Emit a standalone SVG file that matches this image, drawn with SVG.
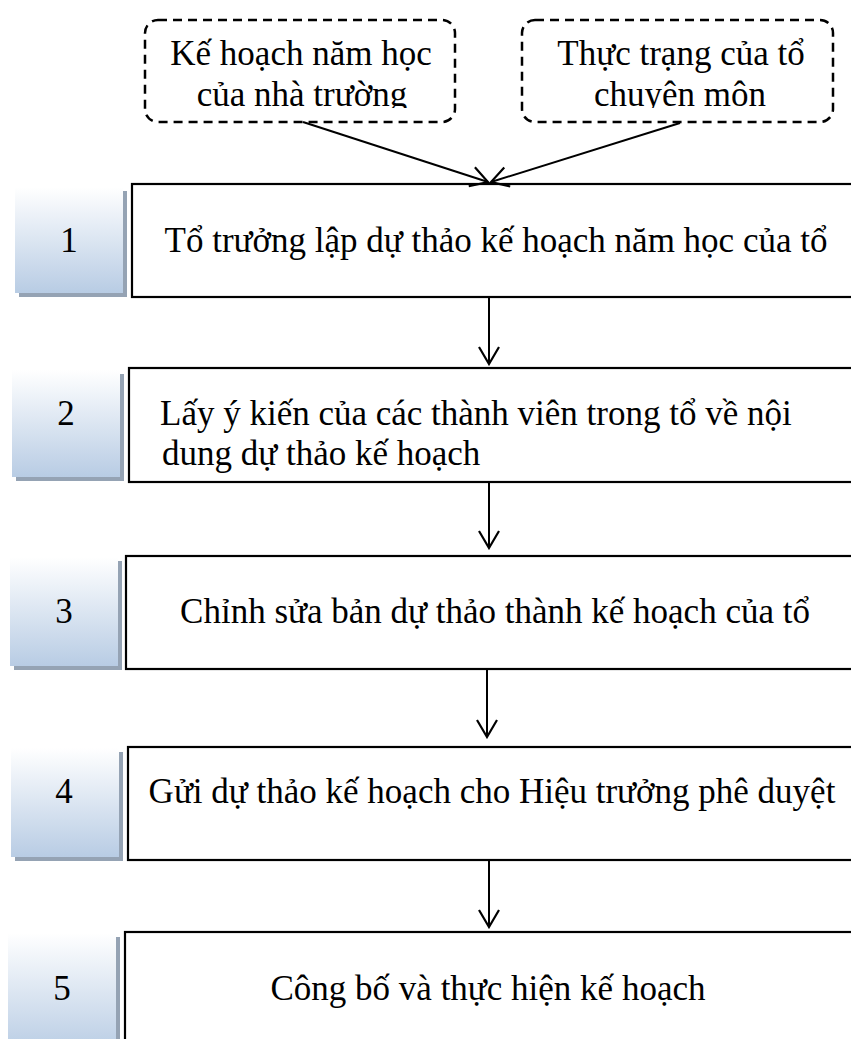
<svg xmlns="http://www.w3.org/2000/svg" width="851" height="1039" viewBox="0 0 851 1039">
<style>
  text { font-family: "Liberation Serif", "Times New Roman", serif; font-size: 35px; fill: #000; }
  .mid { text-anchor: middle; }
  .main { fill: #fff; stroke: #000; stroke-width: 2.2; }
  .dash { fill: #fff; stroke: #000; stroke-width: 2.5; stroke-dasharray: 9 6; }
  .num { fill: url(#grad); }
  .shadow { fill: #95a3b4; }
  .conn { fill: none; stroke: #000; stroke-width: 2; marker-end: url(#ah); }
</style>
<defs>
  <linearGradient id="grad" x1="0" y1="0" x2="0" y2="1">
    <stop offset="0" stop-color="#ffffff"/>
    <stop offset="1" stop-color="#b8cce4"/>
  </linearGradient>
  <marker id="ah" viewBox="-20 -12 22 24" refX="0" refY="0" markerWidth="22" markerHeight="24" markerUnits="userSpaceOnUse" orient="auto">
    <path d="M-17,-10 L0,0 L-17,10" fill="none" stroke="#000" stroke-width="2.2"/>
  </marker>
  <clipPath id="clipA"><rect x="145" y="20" width="310" height="88"/></clipPath>
  <clipPath id="clipB"><rect x="522" y="20" width="311" height="88"/></clipPath>
</defs>
<rect width="851" height="1039" fill="#fff"/>

<g id="input-school-plan">
  <rect class="dash" x="145" y="20" width="310" height="102" rx="13"/>
  <g clip-path="url(#clipA)">
    <text class="mid" x="301" y="65">Kế hoạch năm học</text>
    <text class="mid" x="302" y="106">của nhà trường</text>
  </g>
</g>

<g id="input-group-status">
  <rect class="dash" x="522" y="20" width="311" height="102" rx="13"/>
  <g clip-path="url(#clipB)">
    <text class="mid" x="681" y="65">Thực trạng của tổ</text>
    <text class="mid" x="680" y="106">chuyên môn</text>
  </g>
</g>

<g id="step1">
  <rect class="shadow" x="19" y="191" width="108" height="106"/>
  <rect class="num" x="15" y="187" width="108" height="106"/>
  <text class="mid" x="69" y="252">1</text>
  <rect class="main" x="132" y="184" width="740" height="113"/>
  <text class="mid" x="496" y="252">Tổ trưởng lập dự thảo kế hoạch năm học của tổ</text>
</g>

<g id="step2">
  <rect class="shadow" x="16" y="374" width="108" height="107"/>
  <rect class="num" x="12" y="370" width="108" height="107"/>
  <text class="mid" x="66" y="425">2</text>
  <rect class="main" x="129" y="368" width="740" height="114"/>
  <text x="160" y="425">Lấy ý kiến của các thành viên trong tổ về nội</text>
  <text x="162" y="465">dung dự thảo kế hoạch</text>
</g>

<g id="step3">
  <rect class="shadow" x="14" y="561" width="108" height="109"/>
  <rect class="num" x="10" y="557" width="108" height="109"/>
  <text class="mid" x="64" y="623">3</text>
  <rect class="main" x="126" y="556" width="740" height="113"/>
  <text class="mid" x="495" y="623">Chỉnh sửa bản dự thảo thành kế hoạch của tổ</text>
</g>

<g id="step4">
  <rect class="shadow" x="15" y="752" width="108" height="109"/>
  <rect class="num" x="11" y="748" width="108" height="109"/>
  <text class="mid" x="64" y="803">4</text>
  <rect class="main" x="128" y="747" width="740" height="113"/>
  <text class="mid" x="492" y="803">Gửi dự thảo kế hoạch cho Hiệu trưởng phê duyệt</text>
</g>

<g id="step5">
  <rect class="shadow" x="12" y="937" width="108" height="120"/>
  <rect class="num" x="8" y="933" width="108" height="120"/>
  <text class="mid" x="62" y="1000">5</text>
  <rect class="main" x="125" y="932" width="740" height="130"/>
  <text class="mid" x="488" y="1000">Công bố và thực hiện kế hoạch</text>
</g>

<g id="connectors">
  <line class="conn" x1="303" y1="122" x2="488" y2="182"/>
  <line class="conn" x1="680" y1="123" x2="491" y2="182"/>
  <line class="conn" x1="489" y1="297" x2="489" y2="364"/>
  <line class="conn" x1="489" y1="482" x2="489" y2="548"/>
  <line class="conn" x1="487" y1="669" x2="487" y2="737"/>
  <line class="conn" x1="489" y1="860" x2="489" y2="927"/>
</g>
</svg>
